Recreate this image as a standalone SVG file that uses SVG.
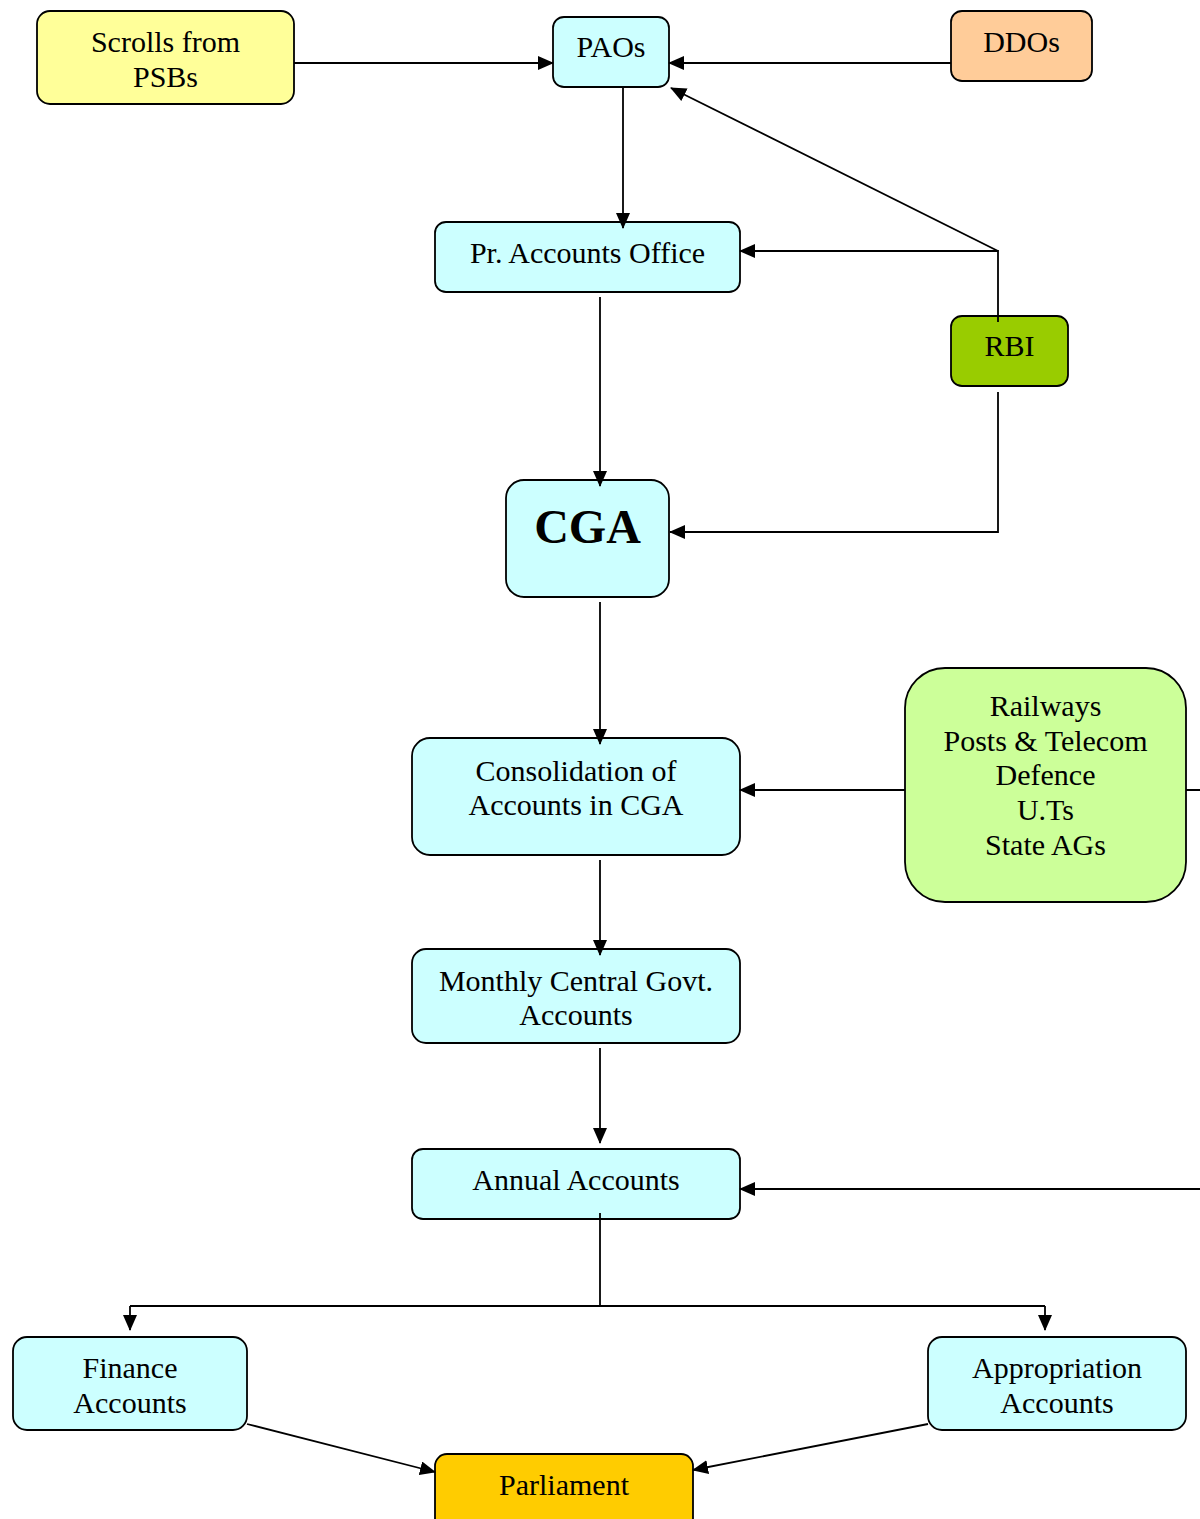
<svg xmlns="http://www.w3.org/2000/svg" width="1200" height="1519" viewBox="0 0 1200 1519">
<defs>
<marker id="ah" markerUnits="userSpaceOnUse" markerWidth="16" markerHeight="14" viewBox="0 0 16 14" refX="15" refY="7" orient="auto">
<path d="M0,0 L16,7 L0,14 Z" fill="#000"/>
</marker>
</defs>
<style>
.box{stroke:#000;stroke-width:1.8}
.t{font-family:"Liberation Serif","Times New Roman",serif;font-size:30px;fill:#000;text-anchor:middle}
.c{fill:none;stroke:#000;stroke-width:1.8}
</style>
<rect width="1200" height="1519" fill="#fff"/>
<g id="scrolls">
<rect class="box" x="37" y="11" width="257" height="93" rx="13" fill="#FFFF99"/>
<text class="t" x="165.5" y="52">Scrolls from</text>
<text class="t" x="165.5" y="87">PSBs</text>
</g>
<g id="paos">
<rect class="box" x="553" y="17" width="116" height="70" rx="11" fill="#CCFFFF"/>
<text class="t" x="611" y="57">PAOs</text>
</g>
<g id="ddos">
<rect class="box" x="951" y="11" width="141" height="70" rx="11" fill="#FFCC99"/>
<text class="t" x="1021.5" y="52">DDOs</text>
</g>
<g id="pr-accounts-office">
<rect class="box" x="435" y="222" width="305" height="70" rx="11" fill="#CCFFFF"/>
<text class="t" x="587.5" y="263">Pr. Accounts Office</text>
</g>
<g id="rbi">
<rect class="box" x="951" y="316" width="117" height="70" rx="11" fill="#99CC00"/>
<text class="t" x="1009.5" y="356">RBI</text>
</g>
<g id="cga">
<rect class="box" x="506" y="480" width="163" height="117" rx="18" fill="#CCFFFF"/>
<text class="t" x="587.5" y="543" style="font-size:48px;font-weight:bold">CGA</text>
</g>
<g id="consolidation">
<rect class="box" x="412" y="738" width="328" height="117" rx="18" fill="#CCFFFF"/>
<text class="t" x="576" y="781">Consolidation of</text>
<text class="t" x="576" y="815">Accounts in CGA</text>
</g>
<g id="railways">
<rect class="box" x="905" y="668" width="281" height="234" rx="40" fill="#CCFF99"/>
<text class="t" x="1045.5" y="716">Railways</text>
<text class="t" x="1045.5" y="751">Posts &amp; Telecom</text>
<text class="t" x="1045.5" y="785">Defence</text>
<text class="t" x="1045.5" y="820">U.Ts</text>
<text class="t" x="1045.5" y="855">State AGs</text>
</g>
<g id="monthly">
<rect class="box" x="412" y="949" width="328" height="94" rx="14" fill="#CCFFFF"/>
<text class="t" x="576" y="991">Monthly Central Govt.</text>
<text class="t" x="576" y="1025">Accounts</text>
</g>
<g id="annual">
<rect class="box" x="412" y="1149" width="328" height="70" rx="11" fill="#CCFFFF"/>
<text class="t" x="576" y="1190">Annual Accounts</text>
</g>
<g id="finance">
<rect class="box" x="13" y="1337" width="234" height="93" rx="14" fill="#CCFFFF"/>
<text class="t" x="130" y="1378">Finance</text>
<text class="t" x="130" y="1413">Accounts</text>
</g>
<g id="appropriation">
<rect class="box" x="928" y="1337" width="258" height="93" rx="14" fill="#CCFFFF"/>
<text class="t" x="1057" y="1378">Appropriation</text>
<text class="t" x="1057" y="1413">Accounts</text>
</g>
<g id="parliament">
<rect class="box" x="435" y="1454" width="258" height="80" rx="12" fill="#FFCC00"/>
<text class="t" x="564" y="1495">Parliament</text>
</g>
<g id="connectors">
<path class="c" d="M294,63 L553,63" marker-end="url(#ah)"/>
<path class="c" d="M951,63 L669,63" marker-end="url(#ah)"/>
<path class="c" d="M623,87 L623,228" marker-end="url(#ah)"/>
<path class="c" d="M998,322 L998,251 L740,251" marker-end="url(#ah)"/>
<path class="c" d="M998,251 L671,88" marker-end="url(#ah)"/>
<path class="c" d="M998,392 L998,532 L670,532" marker-end="url(#ah)"/>
<path class="c" d="M600,297 L600,486" marker-end="url(#ah)"/>
<path class="c" d="M600,602 L600,744" marker-end="url(#ah)"/>
<path class="c" d="M905,790 L740,790" marker-end="url(#ah)"/>
<path class="c" d="M1186,790 L1215,790 L1215,1189 L740,1189" marker-end="url(#ah)"/>
<path class="c" d="M600,860 L600,955" marker-end="url(#ah)"/>
<path class="c" d="M600,1048 L600,1143" marker-end="url(#ah)"/>
<path class="c" d="M600,1213 L600,1306"/>
<path class="c" d="M130,1306 L1045,1306"/>
<path class="c" d="M130,1306 L130,1330" marker-end="url(#ah)"/>
<path class="c" d="M1045,1306 L1045,1330" marker-end="url(#ah)"/>
<path class="c" d="M247,1424 L435,1472" marker-end="url(#ah)"/>
<path class="c" d="M928,1424 L693,1470" marker-end="url(#ah)"/>
</g>
</svg>
